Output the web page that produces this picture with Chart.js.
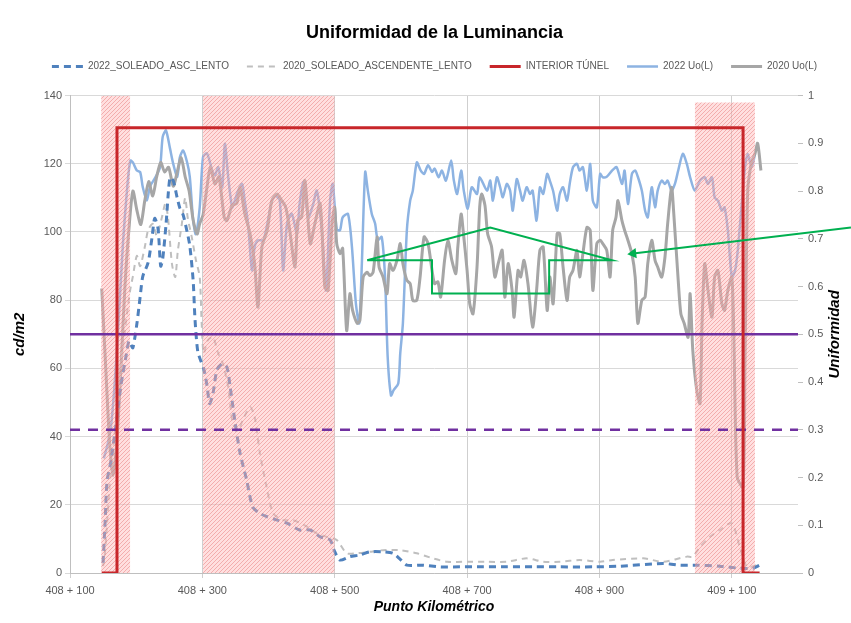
<!DOCTYPE html>
<html lang="es">
<head>
<meta charset="utf-8">
<title>Uniformidad de la Luminancia</title>
<script src="https://cdn.jsdelivr.net/npm/chart.js@4.4.1/dist/chart.umd.min.js"></script>
<style>
  html, body { margin: 0; padding: 0; background: #fff; }
</style>
</head>
<body>
<canvas id="chart" width="851" height="623"></canvas>
<script>
// Eje X en metros desde el PK 408+000
const xRange = [100, 1200];
const xTickValues = [100, 300, 500, 700, 900, 1100];

// 2022 Uo(L) - eje derecho
const pk2022Uo = [151,157,163,171,180,186,191,195,201,206, 210,216,221,228,236,240,245,251,256,262,
  266,271,277,281,286,290,296,301,307,315, 319,324,330,334,339,345,349,354,360,364,
  369,375,379,384,392,399,405,410,417,422, 428,435,443,447,453,460,467,473,481,487,
  493,497,503,508,512,520,526,532,537,541, 546,550,556,561,565,571,576,580,585,589,
  596,599,603,609,614,618,624,630,635,641, 647,651,657,662,668,676,680,685,691,695,
  701,707,715,719,730,735,739,745,750,754, 760,765,769,775,780,784,790,795,799,805,
  810,815,821,825,830,836,840,845,851,855, 860,866,870,875,881,886,890,896,901,905,
  911,919,926,934,938,943,949,954,958,964, 969,973,979,984,988,994,999,1003,1009,1014,
  1019,1026,1032,1037,1044,1052,1059,1064,1070,1074, 1079,1085,1089,1094,1100,1105,1109,1115,1120,1124,
  1130,1135];
const uo2022 = [0.24,0.27,0.32,0.47,0.69,0.80,0.864,0.86,0.843,0.84, 0.808,0.78,0.81,0.826,0.85,0.913,0.927,0.89,0.857,0.83,
  0.871,0.885,0.86,0.83,0.74,0.71,0.766,0.871,0.879,0.843, 0.833,0.85,0.808,0.899,0.83,0.766,0.78,0.801,0.815,0.78,
  0.732,0.634,0.683,0.697,0.697,0.738,0.78,0.79,0.78,0.634, 0.732,0.753,0.711,0.774,0.819,0.745,0.77,0.801,0.711,0.592,
  0.78,0.815,0.72,0.718,0.745,0.752,0.683,0.564,0.523,0.648, 0.84,0.801,0.752,0.732,0.697,0.704,0.62,0.453,0.372,0.383,
  0.397,0.46,0.523,0.718,0.78,0.801,0.86,0.843,0.836,0.854, 0.84,0.847,0.829,0.843,0.822,0.864,0.822,0.794,0.843,0.801,
  0.763,0.808,0.794,0.829,0.801,0.822,0.78,0.829,0.808,0.787, 0.815,0.801,0.759,0.825,0.801,0.78,0.808,0.794,0.801,0.738,
  0.808,0.794,0.836,0.822,0.80,0.759,0.794,0.808,0.78,0.815, 0.85,0.857,0.843,0.85,0.801,0.857,0.78,0.766,0.836,0.829,
  0.83,0.843,0.85,0.815,0.843,0.773,0.836,0.843,0.83,0.801, 0.759,0.745,0.808,0.766,0.801,0.822,0.815,0.822,0.801,0.815,
  0.843,0.878,0.857,0.829,0.801,0.822,0.829,0.815,0.829,0.787, 0.78,0.759,0.766,0.718,0.62,0.634,0.676,0.773,0.85,0.878,
  0.85,0.878];

// 2020 Uo(L) - eje derecho
const pk2020Uo = [148,154,160,165,171,177,183,189,195,201, 207,213,219,225,231,237,243,249,256,262,
  268,274,280,286,292,296,301,307,312,319, 325,333,337,345,352,357,364,372,379,384,
  390,398,405,413,420,426,432,440,444,450, 455,463,470,478,485,490,496,500,503,508,
  512,518,523,527,534,538,543,549,553,558, 564,567,573,579,583,588,594,599,603,609,
  614,618,624,629,635,641,647,651,656,660, 666,671,677,683,686,691,694,700,704,709,
  715,719,722,727,731,737,742,747,753,757, 762,768,771,777,781,786,792,799,805,810,
  815,821,825,830,836,840,845,851,855,860, 866,870,875,881,886,890,896,901,905,911,
  916,920,925,928,934,938,943,949,954,958, 964,969,973,979,984,988,994,999,1003,1009,
  1012,1019,1023,1028,1034,1037,1041,1047,1052,1055, 1059,1064,1070,1074,1079,1085,1089,1094,1100,1103,
  1108,1117,1120,1124,1130,1135,1139,1144];
const uo2020 = [0.596,0.43,0.27,0.205,0.28,0.43,0.60,0.72,0.80,0.76, 0.73,0.78,0.82,0.79,0.83,0.86,0.84,0.85,0.81,0.84,
  0.87,0.83,0.80,0.74,0.71,0.732,0.75,0.808,0.85,0.815, 0.83,0.745,0.738,0.77,0.774,0.808,0.753,0.711,0.648,0.557,
  0.683,0.718,0.78,0.794,0.78,0.766,0.718,0.641,0.738,0.745, 0.822,0.69,0.732,0.774,0.599,0.592,0.732,0.766,0.69,0.669,
  0.68,0.508,0.585,0.55,0.523,0.529,0.62,0.63,0.623,0.63, 0.704,0.641,0.62,0.585,0.648,0.634,0.655,0.69,0.648,0.613,
  0.606,0.571,0.571,0.62,0.704,0.69,0.634,0.606,0.61,0.578, 0.655,0.697,0.655,0.627,0.683,0.752,0.718,0.634,0.564,0.543,
  0.641,0.766,0.794,0.77,0.711,0.683,0.62,0.648,0.676,0.578, 0.648,0.592,0.536,0.634,0.62,0.655,0.606,0.515,0.592,0.676,
  0.683,0.55,0.62,0.564,0.711,0.711,0.641,0.571,0.62,0.634, 0.676,0.62,0.669,0.724,0.718,0.592,0.69,0.697,0.69,0.676,
  0.62,0.718,0.745,0.78,0.738,0.718,0.697,0.669,0.62,0.523, 0.571,0.578,0.648,0.697,0.655,0.641,0.62,0.662,0.731,0.808,
  0.759,0.613,0.543,0.523,0.494,0.585,0.467,0.383,0.355,0.523, 0.648,0.592,0.536,0.62,0.634,0.564,0.55,0.592,0.62,0.50,
  0.202,0.18,0.45,0.80,0.862,0.878,0.90,0.843];

// 2022_SOLEADO_ASC_LENTO (cd/m2)
const pkSol2022 = [150,153,156,162,169,177,185,189,192,195, 201,206,210,218,224,228,233,237,240,245,
  251,256,262,266,271,277,281,286,289,293, 298,302,307,311,316,322,330,337,342,349,
  357,367,376,387,398,413,428,447,463,478, 493,499,508,523,538,553,573,588,599,609,
  633,659,689,724,760,799,840,890,931,996, 1021,1047,1082,1112,1132,1142];
const lumSol2022 = [3,14.6,27,33,43,55,64,68,67,66, 73,81,87,91,98.5,104,101,90,92,102,
  116,115,110,107,105,100,96,86,74,65, 62,60,55,49.7,52.6,59.5,61.4,60.4,54.6,44.8,
  35.1,27.2,19.4,17.5,16.5,15.5,14.6,12.6,12.6,10.6, 9.7,6.7,3.8,4.8,5.3,6.2,6.2,5.8,4,2.3,
  2.3,1.8,1.8,1.8,1.8,1.8,1.8,1.8,2.0,2.8, 2.3,2.3,2.0,1.4,1.4,2.3];

// 2020_SOLEADO_ASCENDENTE_LENTO (cd/m2)
const pkSol2020 = [150,153,160,168,176,180,186,191,195,201, 206,213,218,225,231,239,244,248,254,259,
  263,269,274,278,284,290,296,299,302,308, 316,324,331,339,346,354,361,372,379,387,
  397,407,422,437,458,473,488,503,518,534, 553,573,599,624,648,670,700,730,760,790,
  815,840,870,901,920,966,996,1032,1041,1052, 1067,1082,1100,1112,1123,1138,1142];
const lumSol2020 = [2,6,26,42,58,66,76,83,87,93, 90,95.6,100.5,102.4,99,104.4,108.3,104.4,90.7,86.8,
  94.6,102.4,110,104,98.5,92,86.8,73,64.4,68.2, 69.2,64.4,61.4,54.6,43.8,41.9,44.8,48.7,45.8,35.1,
  25.3,17.5,15.5,15.5,13.6,11.6,10.6,9.7,5.8,5.8, 6.2,6.7,6.7,5.8,4.3,3.3,3.3,3.3,3.3,4.3,
  3.3,3.3,3.8,3.3,3.8,4.3,3.3,4.8,4.8,7.7, 10.6,12.6,14.6,7.7,1.8,2.3,2.8];

// Interior del túnel
const tunelPk = [148, 171, 171, 1117, 1117, 1142];
const tunelVal = [0, 0, 130.6, 130.6, 0, 0];

// Tramos sombreados
const tramoInicio = [147, 301, 1044];
const tramoFin = [191, 500, 1135];
const tramoAltura = [140, 140, 138];

// Niveles de uniformidad de referencia
const refLevels = [0.5, 0.3];

// Anotación verde
const notaPk = [549, 735, 919, 824, 824, 647, 647, 549];
const notaVal = [91.7, 101.3, 91.7, 91.7, 82.0, 82.0, 91.7, 91.7];
const flechaPk = [1280, 951];
const flechaVal = [101.3, 93.7];

const toPoints = (xs, ys) => xs.map((x, i) => ({ x: x, y: ys[i] }));

function pkLabel(v) {
  const km = 408 + Math.floor(v / 1000);
  return km + ' + ' + String(v % 1000).padStart(3, '0');
}

// trama rayada rosa
function makeHatch() {
  const c = document.createElement('canvas');
  c.width = 4; c.height = 4;
  const g = c.getContext('2d');
  g.fillStyle = 'rgba(255,185,185,0.45)';
  g.fillRect(0, 0, 4, 4);
  g.strokeStyle = 'rgba(225,100,100,0.4)';
  g.lineWidth = 1;
  g.beginPath();
  g.moveTo(0, 4); g.lineTo(4, 0);
  g.moveTo(-1, 1); g.lineTo(1, -1);
  g.moveTo(3, 5); g.lineTo(5, 3);
  g.stroke();
  return g.createPattern(c, 'repeat');
}
const hatch = makeHatch();

Chart.defaults.font.family = '"Liberation Sans", Arial, sans-serif';
Chart.defaults.color = '#595959';

const serie = (label, pts, axis, color, width, dash, order) => ({
  label: label, data: pts, yAxisID: axis, borderColor: color, backgroundColor: color,
  borderWidth: width, borderDash: dash, pointRadius: 0, tension: 0.25, fill: false, order: order
});

const datasets = [
  serie('2022_SOLEADO_ASC_LENTO', toPoints(pkSol2022, lumSol2022), 'y', '#4F81BD', 3, [7, 5], 4),
  serie('2020_SOLEADO_ASCENDENTE_LENTO', toPoints(pkSol2020, lumSol2020), 'y', '#BFBFBF', 2, [6, 5], 5),
  Object.assign(serie('INTERIOR TÚNEL', toPoints(tunelPk, tunelVal), 'y', '#C8262A', 3, [], 1), { tension: 0 }),
  serie('2022 Uo(L)', toPoints(pk2022Uo, uo2022), 'y1', '#8DB3E2', 2.5, [], 7),
  serie('2020 Uo(L)', toPoints(pk2020Uo, uo2020), 'y1', '#A6A6A6', 3, [], 6)
];

tramoInicio.forEach((ini, i) => {
  datasets.push({
    label: 'tramo' + (i + 1), yAxisID: 'y',
    data: [{ x: ini, y: tramoAltura[i] }, { x: tramoFin[i], y: tramoAltura[i] }],
    borderWidth: 0, borderColor: 'rgba(0,0,0,0)', backgroundColor: hatch,
    fill: 'origin', pointRadius: 0, order: 3
  });
});

refLevels.forEach((lvl, i) => {
  datasets.push({
    label: 'ref' + lvl, yAxisID: 'y1',
    data: [{ x: xRange[0], y: lvl }, { x: xRange[1], y: lvl }],
    borderColor: '#7030A0', borderWidth: 2.5, borderDash: i === 0 ? [] : [10, 8],
    pointRadius: 0, fill: false, order: 2
  });
});

datasets.push({
  label: 'nota', yAxisID: 'y', data: toPoints(notaPk, notaVal),
  borderColor: '#00B050', borderWidth: 2, pointRadius: 0, fill: false, tension: 0, order: 0
});

datasets.push({
  label: 'flecha', yAxisID: 'y', data: toPoints(flechaPk, flechaVal),
  borderColor: '#00B050', backgroundColor: '#00B050', borderWidth: 2, fill: false, tension: 0,
  clip: false, order: 0,
  pointRadius: [0, 6], pointStyle: 'triangle', pointBorderWidth: 0,
  pointRotation: (c) => {
    const sx = c.chart.scales.x, sy = c.chart.scales.y;
    const dx = sx.getPixelForValue(flechaPk[1]) - sx.getPixelForValue(flechaPk[0]);
    const dy = sy.getPixelForValue(flechaVal[1]) - sy.getPixelForValue(flechaVal[0]);
    return Math.atan2(dy, dx) * 180 / Math.PI + 90;
  }
});

// altura fija de la leyenda
const legendHeight = {
  id: 'legendHeight',
  beforeInit(chart) {
    const legend = chart.legend;
    if (!legend) return;
    const fit = legend.fit;
    legend.fit = function () { fit.call(this); this.height = 52; };
  }
};

// títulos verticales (ambos leídos de abajo hacia arriba)
const sideTitles = {
  id: 'sideTitles',
  afterDraw(chart) {
    const { ctx, chartArea, scales } = chart;
    const midY = (chartArea.top + chartArea.bottom) / 2;
    ctx.save();
    ctx.font = 'italic bold 15px "Liberation Sans", Arial, sans-serif';
    ctx.fillStyle = '#000';
    ctx.textAlign = 'center';
    ctx.textBaseline = 'middle';
    [[scales.y.left + 2, 'cd/m2'], [scales.y1.right - 16, 'Uniformidad']].forEach(([x, text]) => {
      ctx.save();
      ctx.translate(x, midY);
      ctx.rotate(-Math.PI / 2);
      ctx.fillText(text, 0, 0);
      ctx.restore();
    });
    ctx.restore();
  }
};

// leyenda con el trazo (y discontinuo) de cada serie
const legendLabels = (chart) =>
  Chart.defaults.plugins.legend.labels.generateLabels(chart).map((item) => {
    const ds = chart.data.datasets[item.datasetIndex];
    item.strokeStyle = ds.borderColor;
    item.lineWidth = ds.borderWidth;
    item.lineDash = ds.borderDash || [];
    return item;
  });

new Chart(document.getElementById('chart'), {
  type: 'line',
  data: { datasets: datasets },
  plugins: [legendHeight, sideTitles],
  options: {
    responsive: false,
    animation: false,
    events: [],
    layout: { padding: { left: 18, right: 0, top: 0, bottom: 0 } },
    plugins: {
      title: {
        display: true,
        text: 'Uniformidad de la Luminancia',
        color: '#000',
        font: { size: 18, weight: 'bold' },
        padding: { top: 22, bottom: 0 }
      },
      legend: {
        position: 'top',
        labels: {
          generateLabels: legendLabels,
          filter: (item) => item.datasetIndex < 5,
          sort: (a, b) => a.datasetIndex - b.datasetIndex,
          usePointStyle: true,
          pointStyle: 'line',
          pointStyleWidth: 31,
          padding: 18,
          color: '#595959',
          font: { size: 10 }
        }
      },
      tooltip: { enabled: false }
    },
    scales: {
      x: {
        type: 'linear',
        min: xRange[0],
        max: xRange[1],
        afterBuildTicks: (s) => { s.ticks = xTickValues.map(v => ({ value: v })); },
        afterFit: (s) => { s.height = 50; },
        ticks: { callback: (v) => pkLabel(v), padding: 6, font: { size: 11 }, maxRotation: 0, autoSkip: false },
        grid: { color: '#CFCFCF', tickLength: 5 },
        border: { color: '#BFBFBF' },
        title: {
          display: true,
          text: 'Punto Kilométrico',
          color: '#000',
          font: { size: 14, weight: 'bold', style: 'italic' },
          padding: { top: 0, bottom: 7 }
        }
      },
      y: {
        position: 'left',
        min: 0,
        max: 140,
        afterFit: (s) => { s.width = 52; },
        ticks: { stepSize: 20, padding: 3, font: { size: 11 } },
        grid: { color: '#D9D9D9', tickLength: 5 },
        border: { color: '#BFBFBF' }
      },
      y1: {
        position: 'right',
        min: 0,
        max: 1,
        afterFit: (s) => { s.width = 53; },
        ticks: { stepSize: 0.1, padding: 5, font: { size: 11 }, callback: (v) => String(Math.round(v * 10) / 10) },
        grid: { drawOnChartArea: false, color: '#BFBFBF', tickLength: 5 },
        border: { display: false }
      }
    }
  }
});
</script>
</body>
</html>
